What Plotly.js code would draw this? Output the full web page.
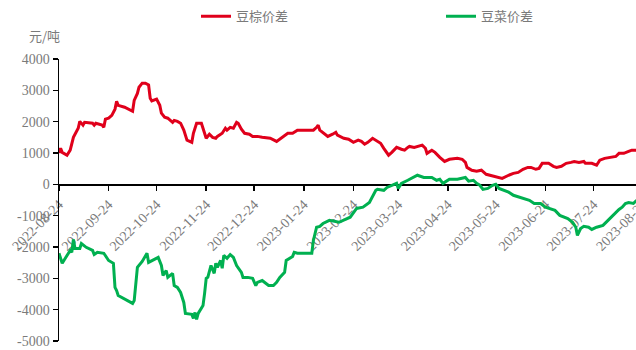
<!DOCTYPE html>
<html>
<head>
<meta charset="utf-8">
<script src="https://cdn.plot.ly/plotly-3.0.1.min.js"></script>
<style>
html,body{margin:0;padding:0;overflow:hidden;background:#fff;width:636px;height:350px;}
#chart{width:660px;height:350px;}
</style>
</head>
<body>
<div id="chart"></div>
<script>
// 豆棕价差 (soybean oil - palm oil spread), 元/吨
const palmDates = ["2022-08-24","2022-08-25","2022-08-26","2022-08-29","2022-08-31","2022-09-02","2022-09-05","2022-09-06","2022-09-08","2022-09-09","2022-09-14","2022-09-15","2022-09-16","2022-09-20","2022-09-21","2022-09-22","2022-09-24","2022-09-26","2022-09-28","2022-09-29","2022-09-30","2022-10-04","2022-10-09","2022-10-10","2022-10-12","2022-10-13","2022-10-15","2022-10-17","2022-10-19","2022-10-20","2022-10-21","2022-10-24","2022-10-26","2022-10-27","2022-10-29","2022-10-31","2022-11-03","2022-11-04","2022-11-06","2022-11-08","2022-11-10","2022-11-12","2022-11-15","2022-11-16","2022-11-18","2022-11-21","2022-11-22","2022-11-24","2022-11-26","2022-11-28","2022-11-30","2022-12-01","2022-12-04","2022-12-06","2022-12-07","2022-12-09","2022-12-11","2022-12-13","2022-12-14","2022-12-16","2022-12-18","2022-12-21","2022-12-23","2022-12-26","2022-12-29","2023-01-03","2023-01-07","2023-01-09","2023-01-12","2023-01-14","2023-01-17","2023-01-20","2023-01-26","2023-01-30","2023-02-01","2023-02-02","2023-02-03","2023-02-05","2023-02-08","2023-02-11","2023-02-13","2023-02-14","2023-02-18","2023-02-21","2023-02-24","2023-02-27","2023-03-01","2023-03-03","2023-03-05","2023-03-08","2023-03-11","2023-03-13","2023-03-15","2023-03-18","2023-03-20","2023-03-23","2023-03-26","2023-03-28","2023-03-30","2023-03-31","2023-04-03","2023-04-05","2023-04-08","2023-04-10","2023-04-11","2023-04-14","2023-04-16","2023-04-19","2023-04-22","2023-04-25","2023-04-30","2023-05-03","2023-05-05","2023-05-06","2023-05-09","2023-05-12","2023-05-15","2023-05-18","2023-05-20","2023-05-25","2023-05-28","2023-06-01","2023-06-04","2023-06-07","2023-06-10","2023-06-13","2023-06-15","2023-06-18","2023-06-20","2023-06-22","2023-06-26","2023-06-29","2023-07-01","2023-07-04","2023-07-07","2023-07-10","2023-07-12","2023-07-15","2023-07-18","2023-07-19","2023-07-23","2023-07-26","2023-07-28","2023-07-31","2023-08-04","2023-08-07","2023-08-09","2023-08-12","2023-08-15","2023-08-17","2023-08-20"];
const palmValues = [1000,1150,1020,930,1090,1500,1790,2010,1890,1980,1950,1890,1950,1890,1820,2080,2110,2200,2400,2650,2520,2460,2330,2680,2900,3100,3230,3230,3170,2750,2660,2720,2520,2270,2140,2110,1980,2040,2010,1950,1730,1410,1340,1630,1950,1950,1790,1470,1600,1500,1470,1530,1630,1790,1730,1820,1790,1980,1950,1760,1630,1600,1530,1530,1500,1470,1370,1440,1570,1630,1630,1730,1730,1730,1820,1890,1730,1660,1530,1600,1660,1570,1470,1440,1340,1410,1370,1280,1340,1470,1370,1310,1150,930,1020,1180,1120,1090,1180,1210,1180,1210,1250,1150,990,1090,1020,860,730,800,830,800,700,540,450,415,450,320,290,220,190,290,350,380,480,540,540,480,510,670,670,575,540,575,670,700,730,700,730,670,670,610,770,830,860,890,990,990,1050,1090,1090];

// 豆菜价差 (soybean oil - rapeseed oil spread), 元/吨
const rapeDates = ["2022-08-24","2022-08-26","2022-08-29","2022-08-31","2022-09-01","2022-09-02","2022-09-03","2022-09-06","2022-09-07","2022-09-10","2022-09-14","2022-09-15","2022-09-17","2022-09-21","2022-09-24","2022-09-26","2022-09-27","2022-09-28","2022-09-29","2022-09-30","2022-10-02","2022-10-09","2022-10-10","2022-10-11","2022-10-12","2022-10-15","2022-10-18","2022-10-19","2022-10-22","2022-10-25","2022-10-27","2022-10-28","2022-10-30","2022-10-31","2022-11-03","2022-11-04","2022-11-06","2022-11-08","2022-11-10","2022-11-11","2022-11-15","2022-11-16","2022-11-17","2022-11-18","2022-11-19","2022-11-22","2022-11-23","2022-11-24","2022-11-25","2022-11-27","2022-11-29","2022-11-30","2022-12-01","2022-12-03","2022-12-04","2022-12-05","2022-12-07","2022-12-09","2022-12-11","2022-12-13","2022-12-16","2022-12-17","2022-12-20","2022-12-23","2022-12-25","2022-12-26","2022-12-29","2023-01-02","2023-01-05","2023-01-07","2023-01-09","2023-01-12","2023-01-13","2023-01-17","2023-01-18","2023-01-20","2023-01-29","2023-01-30","2023-02-01","2023-02-03","2023-02-05","2023-02-09","2023-02-15","2023-02-22","2023-02-26","2023-03-02","2023-03-06","2023-03-10","2023-03-11","2023-03-15","2023-03-17","2023-03-20","2023-03-23","2023-03-24","2023-03-26","2023-03-30","2023-04-02","2023-04-05","2023-04-09","2023-04-14","2023-04-17","2023-04-19","2023-04-21","2023-04-22","2023-04-25","2023-04-30","2023-05-03","2023-05-05","2023-05-07","2023-05-10","2023-05-12","2023-05-14","2023-05-16","2023-05-19","2023-05-22","2023-05-24","2023-05-26","2023-05-29","2023-06-01","2023-06-04","2023-06-08","2023-06-11","2023-06-14","2023-06-17","2023-06-21","2023-06-24","2023-06-27","2023-06-30","2023-07-03","2023-07-08","2023-07-11","2023-07-13","2023-07-14","2023-07-16","2023-07-18","2023-07-21","2023-07-23","2023-07-26","2023-07-30","2023-08-02","2023-08-05","2023-08-07","2023-08-09","2023-08-11","2023-08-13","2023-08-15","2023-08-18","2023-08-20"];
const rapeValues = [-2200,-2520,-2270,-2110,-2170,-1760,-2050,-2050,-1890,-2010,-2110,-2240,-2170,-2200,-2430,-2490,-2520,-3290,-3390,-3550,-3610,-3800,-3710,-3070,-2650,-2460,-2200,-2490,-2400,-2330,-2590,-2910,-2750,-2970,-2840,-3230,-3290,-3450,-3770,-4120,-4150,-4280,-4090,-4310,-4120,-3870,-3480,-3000,-2970,-2590,-2840,-2520,-2650,-2430,-2680,-2270,-2360,-2240,-2330,-2590,-2810,-2970,-2970,-3000,-3230,-3130,-3070,-3230,-3230,-3130,-2970,-2810,-2430,-2300,-2170,-2200,-2200,-1790,-1370,-1340,-1250,-1150,-1210,-1050,-770,-730,-580,-190,-160,-190,-100,-30,30,-130,30,130,220,290,220,220,130,160,30,60,160,160,190,220,100,130,30,-30,-160,-130,-30,0,-130,-190,-250,-350,-410,-480,-510,-610,-610,-730,-770,-830,-990,-1090,-1210,-1370,-1630,-1410,-1340,-1370,-1440,-1370,-1310,-1150,-990,-890,-800,-730,-610,-580,-610,-510];

const tickDates = ["2022-08-24","2022-09-24","2022-10-24","2022-11-24","2022-12-24","2023-01-24","2023-02-24","2023-03-24","2023-04-24","2023-05-24","2023-06-24","2023-07-24","2023-08-24"];
const yTicks = [-5000,-4000,-3000,-2000,-1000,0,1000,2000,3000,4000];
const seriesNames = ["豆棕价差","豆菜价差"];
const unitLabel = "元/吨";

const grey = "#7a7a7a";
const serif = "Liberation Serif, Times New Roman, serif";
const cjk = "Noto Sans CJK SC, sans-serif";

const traces = [
  {x: palmDates, y: palmValues, name: seriesNames[0], type: "scatter", mode: "lines",
   line: {color: "#E0001B", width: 3}, legend: "legend"},
  {x: rapeDates, y: rapeValues, name: seriesNames[1], type: "scatter", mode: "lines",
   line: {color: "#00B050", width: 3}, legend: "legend2"}
];

const legendBase = {orientation: "h", xanchor: "left", y: 1.205, yanchor: "top",
  font: {family: cjk, size: 13, color: grey}, bgcolor: "rgba(0,0,0,0)", itemwidth: 30};

const layout = {
  width: 660, height: 350,
  margin: {l: 59, r: 17, t: 59, b: 9, autoexpand: false},
  paper_bgcolor: "#fff", plot_bgcolor: "#fff",
  showlegend: true,
  legend: Object.assign({}, legendBase, {x: (197 - 59 - 1) / 584}),
  legend2: Object.assign({}, legendBase, {x: (442 - 59 - 1) / 584}),
  xaxis: {type: "date", range: ["2022-08-24", "2023-08-24"], anchor: "free", position: 5/9,
    showgrid: false, zeroline: false, showline: true, linecolor: "#000", linewidth: 1.5,
    ticks: "outside", ticklen: 5, tickcolor: "#000", tickwidth: 1.5,
    tickmode: "array", tickvals: tickDates, ticktext: tickDates, tickangle: -45,
    tickfont: {family: serif, size: 14, color: grey}, layer: "below traces", automargin: false},
  yaxis: {range: [-5000, 4000], showgrid: false, zeroline: false, showline: true,
    linecolor: "#000", linewidth: 1.5, ticks: "outside", ticklen: 5, tickcolor: "#000", tickwidth: 1.5,
    tickmode: "array", tickvals: yTicks, ticktext: yTicks.map(String), automargin: false,
    tickfont: {family: serif, size: 14, color: grey}},
  annotations: [{text: unitLabel, xref: "paper", yref: "paper", x: -0.055, xanchor: "left",
    y: 1.082, yanchor: "middle", showarrow: false, font: {family: cjk, size: 13, color: grey}}]
};

Plotly.newPlot("chart", traces, layout, {displayModeBar: false, staticPlot: true});
</script>
</body>
</html>
